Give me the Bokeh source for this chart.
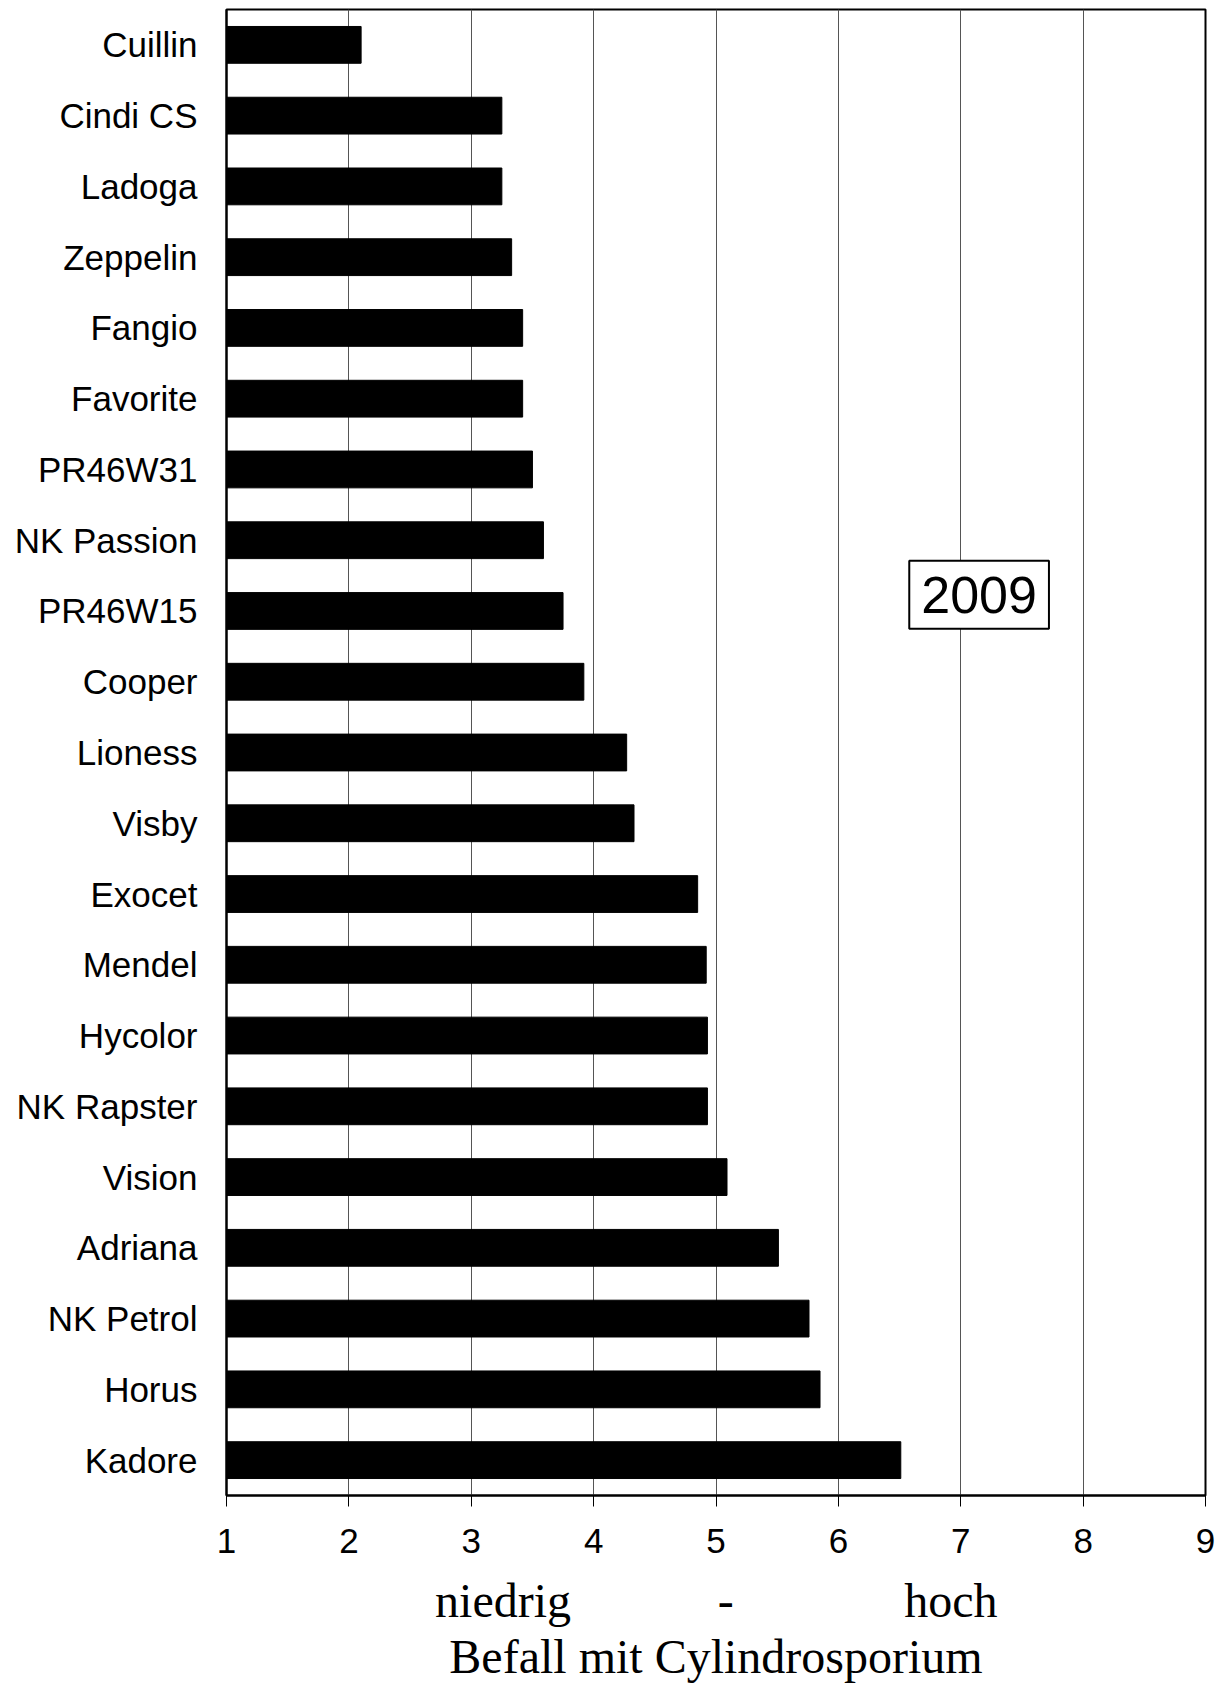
from bokeh.plotting import figure
from bokeh.models import FactorRange, Range1d, LinearAxis, FixedTicker, ColumnDataSource, Label
from bokeh.embed import file_html
from bokeh.resources import INLINE

varieties = ["Cuillin", "Cindi CS", "Ladoga", "Zeppelin", "Fangio", "Favorite", "PR46W31",
             "NK Passion", "PR46W15", "Cooper", "Lioness", "Visby", "Exocet", "Mendel",
             "Hycolor", "NK Rapster", "Vision", "Adriana", "NK Petrol", "Horus", "Kadore"]
befall = [2.10, 3.25, 3.25, 3.33, 3.42, 3.42, 3.50, 3.59, 3.75, 3.92, 4.27, 4.33,
          4.85, 4.92, 4.93, 4.93, 5.09, 5.51, 5.76, 5.85, 6.51]
x_ticks = [1, 2, 3, 4, 5, 6, 7, 8, 9]
scale_words = ["niedrig", "-", "hoch"]
year_label = "2009"
x_title = "Befall mit Cylindrosporium"

src = ColumnDataSource(dict(variety=varieties, befall=befall))

p = figure(width=1216, height=1687,
           y_range=FactorRange(*reversed(varieties)),
           x_range=Range1d(1, 9),
           output_backend="svg", toolbar_location=None,
           min_border_left=226, min_border_right=11, min_border_top=9,
           min_border_bottom=192)

p.hbar(y="variety", left=1, right="befall", height=0.52, source=src,
       fill_color="black", line_color="black")

p.outline_line_color = "black"
p.outline_line_width = 2
p.ygrid.grid_line_color = None
p.xgrid.ticker = FixedTicker(ticks=x_ticks)
p.xgrid.grid_line_color = "#555555"
p.xgrid.grid_line_width = 1

xa = p.below[0]
xa.ticker = FixedTicker(ticks=x_ticks)
xa.minor_tick_line_color = None
xa.major_tick_out = 11
xa.major_tick_in = 0
xa.major_tick_line_width = 1
xa.axis_line_width = 2
xa.major_label_standoff = 22
xa.major_label_text_font = "Liberation Sans"
xa.major_label_text_font_size = "35px"
xa.major_label_text_color = "black"

ya = p.left[0]
ya.major_tick_out = 0
ya.major_tick_in = 0
ya.minor_tick_line_color = None
ya.axis_line_width = 2
ya.major_label_standoff = 29
ya.major_label_text_font = "Liberation Sans"
ya.major_label_text_font_size = "35px"
ya.major_label_text_color = "black"

word_pos = [3.26, 5.08, 6.92]
ax2 = LinearAxis(ticker=FixedTicker(ticks=word_pos),
                 major_label_overrides={pos: w for pos, w in zip(word_pos, scale_words)},
                 axis_line_color=None, major_tick_line_color=None, minor_tick_line_color=None,
                 major_label_standoff=12,
                 major_label_text_font="Liberation Serif",
                 major_label_text_font_size="48px",
                 major_label_text_color="black",
                 axis_label=x_title,
                 axis_label_standoff=0,
                 axis_label_text_font="Liberation Serif",
                 axis_label_text_font_size="48px",
                 axis_label_text_font_style="normal",
                 axis_label_text_color="black")
p.add_layout(ax2, "below")

lab = Label(x=7.15, y=12.73, text=year_label, text_align="center", text_baseline="middle",
            text_font="Liberation Sans", text_font_size="52px", text_color="black",
            border_line_color="black", border_line_width=2, background_fill_color="white",
            padding=dict(left=12, right=12, top=16, bottom=16))
p.add_layout(lab)

open("out.html", "w").write(file_html(p, INLINE))
